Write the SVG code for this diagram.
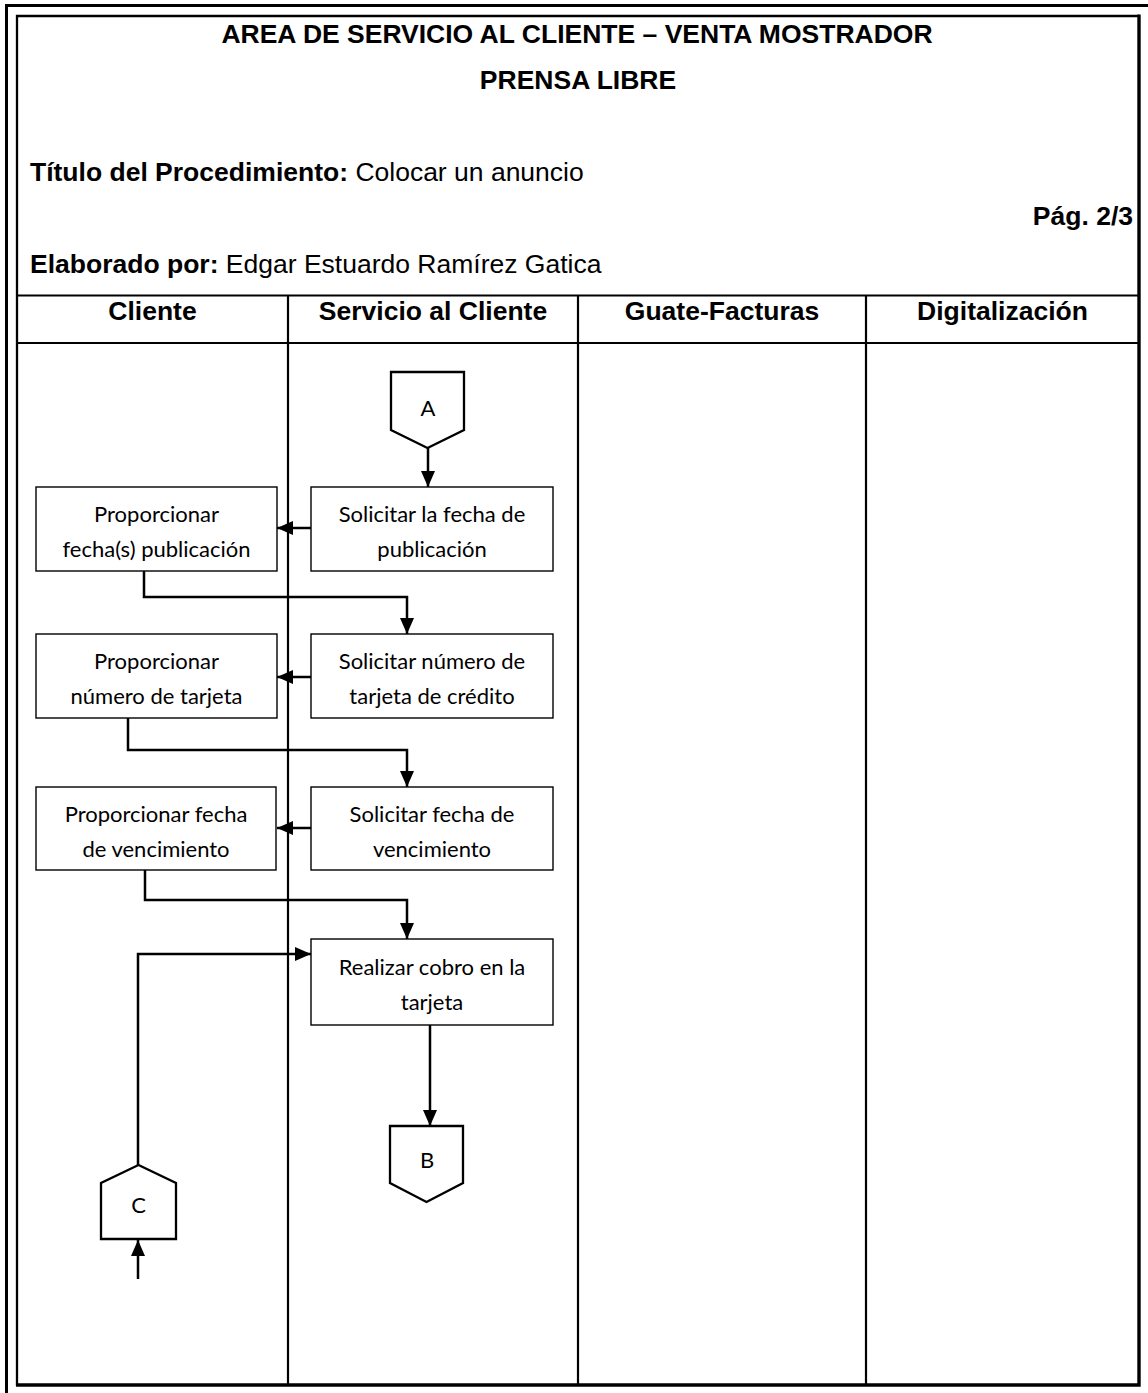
<svg xmlns="http://www.w3.org/2000/svg" width="1148" height="1393" viewBox="0 0 1148 1393">
  <defs>
    <style>
      .hd { font-family: "Liberation Sans", Arial, sans-serif; font-size: 26.5px; fill: #000; }
      .b { font-weight: bold; }
      .frame { stroke: #000; fill: none; }
      .lane { stroke: #000; stroke-width: 2.2; fill: none; }
      .box rect { fill: #fff; stroke: #000; stroke-width: 1.4; }
      .box text, .conn text { font-family: Lato, "Open Sans", sans-serif; font-size: 22px; fill: #000; text-anchor: middle; }
      .conn polygon { fill: #fff; stroke: #000; stroke-width: 2.3; stroke-linejoin: miter; }
      .edge { stroke: #000; stroke-width: 2.5; fill: none; }
      .arr { marker-end: url(#ah); }
    </style>
    <marker id="ah" viewBox="0 0 16 14" refX="16" refY="7" markerWidth="16" markerHeight="14" markerUnits="userSpaceOnUse" orient="auto">
      <path d="M0,0 L16,7 L0,14 z" fill="#000"/>
    </marker>
  </defs>

  <rect x="0" y="0" width="1148" height="1393" fill="#fff"/>

  <!-- page frame: heavy outer rule on top/left, inner box -->
  <g id="frame">
    <path class="frame" d="M6.5,1393 V5.5 H1148" stroke-width="3"/>
    <path class="frame" d="M17,1386 V16 H1139" stroke-width="2.3"/>
    <path class="frame" d="M1139,14.5 V1385 H16" stroke-width="3.4"/>
  </g>

  <!-- document header -->
  <g id="header">
    <text class="hd b" x="577" y="43" text-anchor="middle">AREA DE SERVICIO AL CLIENTE – VENTA MOSTRADOR</text>
    <text class="hd b" x="578" y="89" text-anchor="middle">PRENSA LIBRE</text>
    <text class="hd" x="30" y="181"><tspan class="b">Título del Procedimiento:</tspan> Colocar un anuncio</text>
    <text class="hd b" x="1133" y="225" text-anchor="end">Pág. 2/3</text>
    <text class="hd" x="30" y="273"><tspan class="b">Elaborado por:</tspan> Edgar Estuardo Ramírez Gatica</text>
  </g>

  <!-- swimlane grid -->
  <g id="lanes">
    <line class="lane" x1="17" y1="295.5" x2="1139" y2="295.5"/>
    <line class="lane" x1="17" y1="343" x2="1139" y2="343"/>
    <line class="lane" x1="288" y1="295.5" x2="288" y2="1385"/>
    <line class="lane" x1="578" y1="295.5" x2="578" y2="1385"/>
    <line class="lane" x1="866" y1="295.5" x2="866" y2="1385"/>
    <text class="hd b" x="152.5" y="320" text-anchor="middle">Cliente</text>
    <text class="hd b" x="433" y="320" text-anchor="middle">Servicio al Cliente</text>
    <text class="hd b" x="722" y="320" text-anchor="middle">Guate-Facturas</text>
    <text class="hd b" x="1002.5" y="320" text-anchor="middle">Digitalización</text>
  </g>

  <!-- connectors -->
  <g id="edges">
    <line class="edge arr" x1="428" y1="448" x2="428" y2="487"/>
    <line class="edge arr" x1="311" y1="528" x2="277" y2="528"/>
    <polyline class="edge arr" points="144,571 144,597 407,597 407,634"/>
    <line class="edge arr" x1="311" y1="677" x2="277" y2="677"/>
    <polyline class="edge arr" points="128,718 128,750 407,750 407,787"/>
    <line class="edge arr" x1="311" y1="828" x2="277" y2="828"/>
    <polyline class="edge arr" points="145,870 145,900 407,900 407,939"/>
    <polyline class="edge arr" points="138,1165 138,954 311,954"/>
    <line class="edge arr" x1="430" y1="1025" x2="430" y2="1126"/>
    <line class="edge arr" x1="138" y1="1279" x2="138" y2="1240"/>
  </g>

  <!-- off-page connectors -->
  <g id="conn-a" class="conn">
    <polygon points="391,372 464,372 464,430 427.5,448 391,430"/>
    <text x="428" y="416">A</text>
  </g>
  <g id="conn-b" class="conn">
    <polygon points="390,1126 463,1126 463,1183 426.5,1202 390,1183"/>
    <text x="427" y="1168">B</text>
  </g>
  <g id="conn-c" class="conn">
    <polygon points="101,1239 176,1239 176,1183 138.5,1165 101,1183"/>
    <text x="138.5" y="1213">C</text>
  </g>

  <!-- process steps -->
  <g id="step-solicitar-fecha" class="box">
    <rect x="311" y="487" width="242" height="84"/>
    <text x="432" y="522">Solicitar la fecha de</text>
    <text x="432" y="556.5">publicación</text>
  </g>
  <g id="step-proporcionar-fecha" class="box">
    <rect x="36" y="487" width="241" height="84"/>
    <text x="156.5" y="522">Proporcionar</text>
    <text x="156.5" y="556.5">fecha(s) publicación</text>
  </g>
  <g id="step-solicitar-tarjeta" class="box">
    <rect x="311" y="634" width="242" height="84"/>
    <text x="432" y="669">Solicitar número de</text>
    <text x="432" y="703.5">tarjeta de crédito</text>
  </g>
  <g id="step-proporcionar-tarjeta" class="box">
    <rect x="36" y="634" width="241" height="84"/>
    <text x="156.5" y="669">Proporcionar</text>
    <text x="156.5" y="703.5">número de tarjeta</text>
  </g>
  <g id="step-solicitar-vencimiento" class="box">
    <rect x="311" y="787" width="242" height="83"/>
    <text x="432" y="822">Solicitar fecha de</text>
    <text x="432" y="856.5">vencimiento</text>
  </g>
  <g id="step-proporcionar-vencimiento" class="box">
    <rect x="36" y="787" width="240" height="83"/>
    <text x="156" y="822">Proporcionar fecha</text>
    <text x="156" y="856.5">de vencimiento</text>
  </g>
  <g id="step-realizar-cobro" class="box">
    <rect x="311" y="939" width="242" height="86"/>
    <text x="432" y="975">Realizar cobro en la</text>
    <text x="432" y="1009.5">tarjeta</text>
  </g>
</svg>
